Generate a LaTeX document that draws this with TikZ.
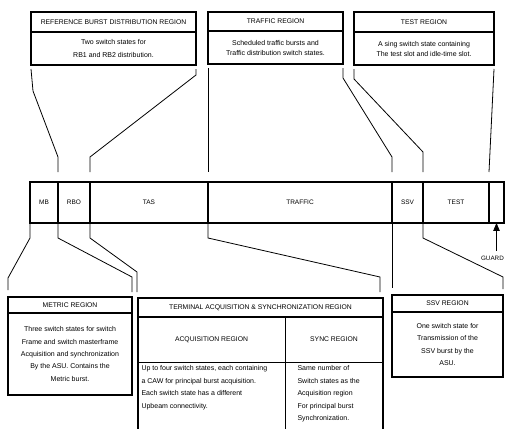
\documentclass[tikz,border=0pt]{standalone}
\usepackage{fontspec}
\setmainfont{Liberation Sans}
\usetikzlibrary{arrows}

\begin{document}
\begin{tikzpicture}[x=1pt,y=-1pt,
    hdr/.style={draw,line width=1.3pt,anchor=north west,inner sep=0pt,outer sep=0pt,font=\fontsize{6.8}{8}\selectfont},
    txt/.style={draw,line width=1.3pt,anchor=north west,inner sep=0pt,outer sep=0pt,align=center,font=\fontsize{7}{10}\selectfont},
    part/.style={draw,line width=0.7pt,anchor=north west,inner sep=0pt,outer sep=0pt,font=\fontsize{6.8}{8}\selectfont},
    seg/.style={draw,line width=1.6pt,anchor=north west,minimum height=41pt,inner sep=0pt,outer sep=0pt,font=\fontsize{6.5}{7}\selectfont},
    lead/.style={line width=0.8pt}]
      \useasboundingbox (0,0) rectangle (505,428);
      \clip (0,0) rectangle (505,428);
      \node[hdr,minimum width=165pt,minimum height=20pt] (refhd) at (31,12) {REFERENCE BURST DISTRIBUTION REGION};
      \node[txt,minimum width=165pt,minimum height=33pt,font=\fontsize{7}{13}\selectfont] (refbd) at (refhd.south west) {Two switch states for\\RB1 and RB2 distribution.};
      \node[hdr,minimum width=135pt,minimum height=19pt] (trfhd) at (208,12) {TRAFFIC REGION};
      \node[txt,minimum width=135pt,minimum height=33pt] (trfbd) at (trfhd.south west) {Scheduled traffic bursts and\\Traffic distribution switch states.};
      \node[hdr,minimum width=140pt,minimum height=20pt] (tsthd) at (354,12) {TEST REGION};
      \node[txt,minimum width=140pt,minimum height=33pt] (tstbd) at (tsthd.south west) {A sing switch state containing\\The test slot and idle-time slot.};

      \node[seg,minimum width=28pt] (mb) at (30,182) {MB};
      \node[seg,minimum width=32pt] (rbo) at (mb.north east) {RBO};
      \node[seg,minimum width=118pt] (tas) at (rbo.north east) {TAS};
      \node[seg,minimum width=184pt] (traffic) at (tas.north east) {TRAFFIC};
      \node[seg,minimum width=31pt] (ssv) at (traffic.north east) {SSV};
      \node[seg,minimum width=66pt] (test) at (ssv.north east) {TEST};
      \node[seg,minimum width=15pt] (guard) at (test.north east) {};

      \draw[lead] ([yshift=-4pt]refbd.south west) -- ++(2,22) -- ([yshift=25pt]mb.north east) -- ([yshift=10pt]mb.north east);
      \draw[lead] ([yshift=-4pt]refbd.south east) -- ++(0,6) -- ([yshift=25pt]rbo.north east) -- ([yshift=10pt]rbo.north east);
      \draw[lead] ([yshift=-4pt]trfbd.south west) -- ([yshift=10pt]tas.north east);
      \draw[lead] ([yshift=-4pt]trfbd.south east) -- ++(0,10) -- ([yshift=25pt]traffic.north east) -- ([yshift=10pt]traffic.north east);
      \draw[lead] ([yshift=-4pt]tstbd.south west) -- ++(0,10) -- ([yshift=30pt]ssv.north east) -- ([yshift=10pt]ssv.north east);
      \draw[lead] ([yshift=-4pt]tstbd.south east) -- ([yshift=10pt]test.north east);

      \node[hdr,minimum width=124pt,minimum height=16pt] (methd) at (8,297) {METRIC REGION};
      \node[txt,minimum width=124pt,minimum height=82pt,font=\fontsize{7}{12.3}\selectfont] (metbd) at (methd.south west) {Three switch states for switch\\Frame and switch masterframe\\Acquisition and synchronization\\By the ASU. Contains the\\Metric burst.};

      \node[hdr,minimum width=245pt,minimum height=19pt] (tashd) at (138,298) {TERMINAL ACQUISITION \& SYNCHRONIZATION REGION};
      \node[part,minimum width=147pt,minimum height=45pt] (acqhd) at (tashd.south west) {ACQUISITION REGION};
      \node[part,minimum width=98pt,minimum height=45pt] (synhd) at (acqhd.north east) {SYNC REGION};
      \node[part,minimum width=147pt,minimum height=80pt] (acqbd) at (acqhd.south west) {};
      \node[part,minimum width=98pt,minimum height=80pt] (synbd) at (acqbd.north east) {};
      \draw[line width=1.3pt] (tashd.north west) rectangle (synbd.south east);
      \node[anchor=north west,align=left,font=\fontsize{7}{12.5}\selectfont] (acqtxt) at (acqbd.north west) {Up to four switch states, each containing\\a CAW for principal burst acquisition.\\Each switch state has a different\\Upbeam connectivity.};
      \node[anchor=north west,align=left,font=\fontsize{7}{12.5}\selectfont] (syntxt) at ([xshift=9pt]synbd.north west) {Same number of\\Switch states as the\\Acquisition region\\For principal burst\\Synchronization.};

      \node[hdr,minimum width=111pt,minimum height=17pt] (ssvhd) at (392,295) {SSV REGION};
      \node[txt,minimum width=111pt,minimum height=65pt,font=\fontsize{7}{12.5}\selectfont] (ssvbd) at (ssvhd.south west) {One switch state for\\Transmission of the\\SSV burst by the\\ASU.};

      \draw[lead] ([yshift=-1pt]mb.south west) -- ++(0,14) -- ([yshift=19pt]methd.north west) -- ([yshift=7pt]methd.north west);
      \draw[lead] ([yshift=-1pt]mb.south east) -- ++(0,14) -- ([yshift=20pt]methd.north east) -- ([yshift=5pt]methd.north east);
      \draw[lead] ([yshift=-1pt]rbo.south east) -- ++(0,14) -- ([xshift=-1pt,yshift=26pt]tashd.north west) -- ([xshift=-1pt,yshift=6pt]tashd.north west);
      \draw[lead] ([yshift=-1pt]tas.south east) -- ++(0,14) -- ([xshift=-3pt,yshift=21pt]tashd.north east) -- ([xshift=-3pt,yshift=6pt]tashd.north east);
      \draw[lead] ([yshift=-1pt]traffic.south east) -- ([yshift=7pt]ssvhd.north west);
      \draw[lead] ([yshift=-1pt]ssv.south east) -- ++(0,14) -- ([yshift=18pt]ssvhd.north east) -- ([yshift=6pt]ssvhd.north east);

      \node[anchor=east,inner sep=0pt,font=\fontsize{6.3}{7}\selectfont] (guardlbl) at (504,258) {GUARD};
      \draw[lead,-triangle 45,shorten <=5pt] (guard.south |- guardlbl.north) -- (guard.south);
\end{tikzpicture}
\end{document}
